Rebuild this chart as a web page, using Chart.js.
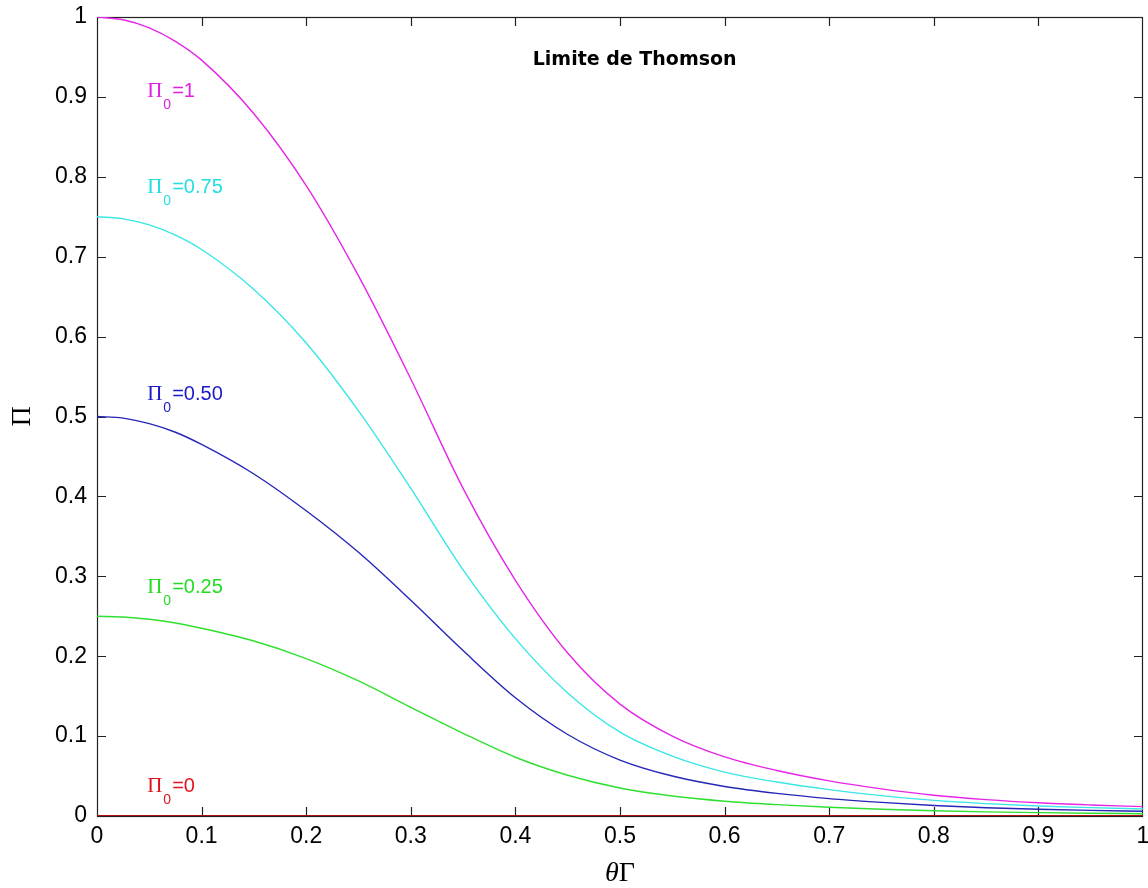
<!DOCTYPE html>
<html>
<head>
<meta charset="utf-8">
<title>Limite de Thomson</title>
<script src="https://cdn.jsdelivr.net/npm/chart.js@4.4.1/dist/chart.umd.min.js"></script>
<style>
html, body { margin: 0; padding: 0; background: #fff; }
#wrap { width: 1148px; height: 888px; }
</style>
</head>
<body>
<div id="wrap"><canvas id="chart"></canvas></div>
<script>
// values
const thetaGamma = [0, 0.025, 0.05, 0.075, 0.1, 0.15, 0.2, 0.25, 0.3, 0.35, 0.4, 0.45, 0.5, 0.55, 0.6, 0.65, 0.7, 0.75, 0.8, 0.85, 0.9, 0.95, 1];
const pi0One = [1.0, 0.9966, 0.9865, 0.9696, 0.946, 0.879, 0.789, 0.676, 0.547, 0.410, 0.295, 0.204, 0.140, 0.100, 0.074, 0.057, 0.044, 0.034, 0.026, 0.0205, 0.0165, 0.0138, 0.0117];
const pi0ThreeQuarter = [0.750, 0.7474, 0.7398, 0.727, 0.709, 0.659, 0.592, 0.507, 0.410, 0.308, 0.222, 0.154, 0.105, 0.075, 0.055, 0.0425, 0.033, 0.0255, 0.0195, 0.0155, 0.0125, 0.0105, 0.0088];
const pi0Half = [0.500, 0.498, 0.491, 0.4803, 0.465, 0.428, 0.382, 0.330, 0.270, 0.207, 0.148, 0.102, 0.070, 0.050, 0.037, 0.0283, 0.0218, 0.017, 0.0131, 0.0104, 0.0084, 0.007, 0.0059];
const pi0Quarter = [0.250, 0.2491, 0.2462, 0.2416, 0.235, 0.219, 0.197, 0.169, 0.136, 0.1035, 0.0735, 0.051, 0.035, 0.025, 0.0185, 0.0142, 0.0109, 0.0085, 0.0066, 0.0052, 0.0042, 0.0035, 0.0029];
const pi0Zero = [0, 0, 0, 0, 0, 0, 0, 0, 0, 0, 0, 0, 0, 0, 0, 0, 0, 0, 0, 0, 0, 0, 0];
const xTickLabels = ['0', '0.1', '0.2', '0.3', '0.4', '0.5', '0.6', '0.7', '0.8', '0.9', '1'];
const yTickLabels = ['0', '0.1', '0.2', '0.3', '0.4', '0.5', '0.6', '0.7', '0.8', '0.9', '1'];
const curveNames = ['\u03A00=1', '\u03A00=0.75', '\u03A00=0.50', '\u03A00=0.25', '\u03A00=0'];
const curveValues = ['1', '0.75', '0.50', '0.25', '0'];

const lineColors = ['#e626e6', '#3ae6e6', '#2626b8', '#30e030', '#b01010'];
const textColors = ['#e020e0', '#22dede', '#1a1ac8', '#22dd22', '#e0141e'];
// where the curve labels sit, in axis units (left edge, baseline)
const labelX = 0.048;
const labelY = [0.900, 0.780, 0.521, 0.279, 0.030];

let pts = (ys) => thetaGamma.map((x, i) => ({x: x, y: ys[i]}));
let series = [pi0One, pi0ThreeQuarter, pi0Half, pi0Quarter, pi0Zero];

let datasets = series.map((ys, i) =>
{
  return {
    label: curveNames[i],
    data: pts(ys),
    borderColor: lineColors[i],
    borderWidth: i == 4 ? 2 : 1.4,
    pointRadius: 0,
    cubicInterpolationMode: 'monotone',
    fill: false
  };
});

// box, inward ticks, title, axis names, curve labels
const decor =
{
  id: 'decor',
  beforeDatasetsDraw(chart)
  {
    let ctx = chart.ctx;
    let a = chart.chartArea;
    let sx = chart.scales.x;
    let sy = chart.scales.y;
    ctx.save();
    ctx.strokeStyle = '#222';
    ctx.lineWidth = 1.2;
    ctx.strokeRect(a.left + 0.5, a.top + 0.5, a.right - a.left - 1, a.bottom - a.top);
    ctx.beginPath();
    for (let i = 1; i < 10; i++)
    {
      let px = Math.round(sx.getPixelForValue(i / 10)) + 0.5;
      ctx.moveTo(px, a.bottom);
      ctx.lineTo(px, a.bottom - 9);
      ctx.moveTo(px, a.top);
      ctx.lineTo(px, a.top + 9);
      let py = Math.round(sy.getPixelForValue(i / 10)) + 0.5;
      ctx.moveTo(a.left, py);
      ctx.lineTo(a.left + 9, py);
      ctx.moveTo(a.right, py);
      ctx.lineTo(a.right - 9, py);
    }
    ctx.stroke();
    ctx.restore();
  },
  afterDatasetsDraw(chart)
  {
    let ctx = chart.ctx;
    let a = chart.chartArea;
    let sx = chart.scales.x;
    let sy = chart.scales.y;
    ctx.save();
    ctx.textBaseline = 'alphabetic';

    // title inside the plot
    ctx.fillStyle = '#000';
    ctx.font = 'bold 19px "DejaVu Sans"';
    ctx.textAlign = 'center';
    ctx.fillText('Limite de Thomson', sx.getPixelForValue(0.514), sy.getPixelForValue(0.94));

    // curve labels: Π with subscript 0
    ctx.textAlign = 'left';
    for (let i = 0; i < curveValues.length; i++)
    {
      let x = sx.getPixelForValue(labelX);
      let y = sy.getPixelForValue(labelY[i]);
      ctx.fillStyle = textColors[i];
      ctx.font = '21px "Liberation Serif"';
      ctx.fillText('\u03A0', x, y);
      x += ctx.measureText('\u03A0').width + 1;
      ctx.font = '14px "Liberation Sans"';
      ctx.fillText('0', x, y + 12);
      x += ctx.measureText('0').width + 1;
      ctx.font = '20px "Liberation Sans"';
      ctx.fillText('=' + curveValues[i], x, y);
    }

    // axis names
    ctx.fillStyle = '#000';
    let cx = (a.left + a.right) / 2;
    ctx.font = 'italic 28px "Liberation Serif"';
    let wT = ctx.measureText('\u03B8').width;
    ctx.font = '28px "Liberation Serif"';
    let wG = ctx.measureText('\u0393').width;
    let x0 = cx - (wT + wG) / 2;
    ctx.font = 'italic 28px "Liberation Serif"';
    ctx.fillText('\u03B8', x0, 881);
    ctx.font = '28px "Liberation Serif"';
    ctx.fillText('\u0393', x0 + wT, 881);

    ctx.translate(30, (a.top + a.bottom) / 2);
    ctx.rotate(-Math.PI / 2);
    ctx.textAlign = 'center';
    ctx.font = '28px "Liberation Serif"';
    ctx.fillText('\u03A0', 0, 0);
    ctx.restore();
  }
};

const tickFont = {family: '"Liberation Sans", Arial, sans-serif', size: 23};

new Chart(document.getElementById('chart'),
{
  type: 'line',
  data: {datasets: datasets},
  options:
  {
    responsive: true,
    maintainAspectRatio: false,
    animation: false,
    layout: {padding: {left: 0, top: 17, right: 5, bottom: 0}},
    plugins: {legend: {display: false}, tooltip: {enabled: false}},
    scales:
    {
      x:
      {
        type: 'linear',
        min: 0,
        max: 1,
        grid: {display: false, drawTicks: false},
        border: {display: false},
        ticks: {stepSize: 0.1, autoSkip: false, maxRotation: 0, padding: 7, color: '#000', font: tickFont, callback: (v, i) => xTickLabels[i]},
        afterFit: (s) =>
        {
          s.height = 72;
          s.paddingLeft = 0;
          s.paddingRight = 0;
        }
      },
      y:
      {
        type: 'linear',
        min: 0,
        max: 1,
        grid: {display: false, drawTicks: false},
        border: {display: false},
        ticks: {stepSize: 0.1, padding: 10, color: '#000', font: tickFont, callback: (v, i) => yTickLabels[i]},
        afterFit: (s) =>
        {
          s.width = 97;
          s.paddingTop = 0;
          s.paddingBottom = 0;
        }
      }
    }
  },
  plugins: [decor]
});
</script>
</body>
</html>
